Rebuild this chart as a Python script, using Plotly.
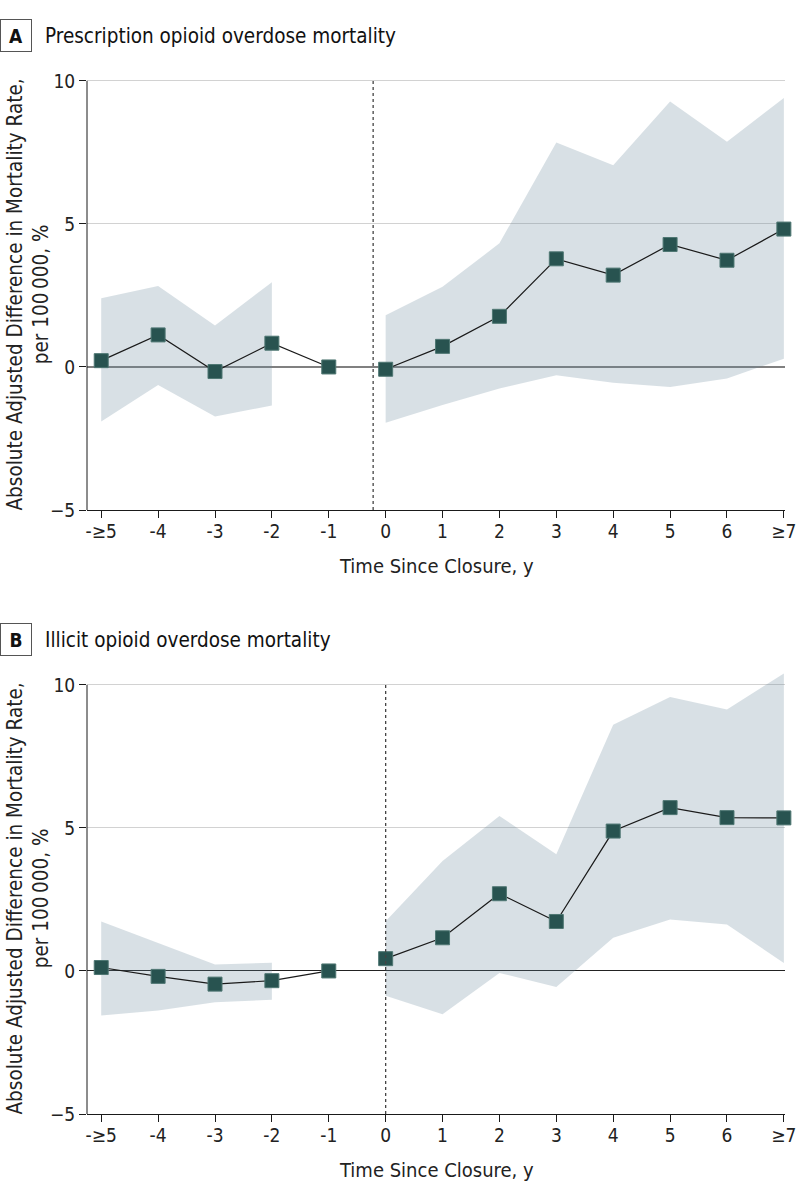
import plotly.graph_objects as go

# ---------------- data ----------------
tick_labels = ["-≥5", "-4", "-3", "-2", "-1", "0", "1", "2", "3", "4", "5", "6", "≥7"]
pre_idx = [0, 1, 2, 3, 4]
post_idx = [5, 6, 7, 8, 9, 10, 11, 12]

# Panel A: prescription opioid overdose mortality
a_pre_est = [0.22, 1.12, -0.16, 0.83, 0.0]
a_pre_lo = [-1.91, -0.63, -1.73, -1.35]
a_pre_hi = [2.40, 2.83, 1.45, 2.96]
a_post_est = [-0.08, 0.72, 1.77, 3.78, 3.21, 4.28, 3.73, 4.82]
a_post_lo = [-1.95, -1.33, -0.75, -0.29, -0.55, -0.70, -0.40, 0.29]
a_post_hi = [1.81, 2.80, 4.32, 7.85, 7.05, 9.28, 7.87, 9.40]
a_closure = 4.78

# Panel B: illicit opioid overdose mortality
b_pre_est = [0.12, -0.19, -0.46, -0.34, 0.0]
b_pre_lo = [-1.56, -1.38, -1.09, -1.01]
b_pre_hi = [1.73, 0.98, 0.23, 0.29]
b_post_est = [0.43, 1.16, 2.70, 1.73, 4.89, 5.71, 5.36, 5.35]
b_post_lo = [-0.87, -1.51, -0.07, -0.56, 1.16, 1.80, 1.62, 0.28]
b_post_hi = [1.74, 3.84, 5.42, 4.08, 8.61, 9.58, 9.14, 10.40]
b_closure = 5.0

titles = ["Prescription opioid overdose mortality", "Illicit opioid overdose mortality"]
letters = ["A", "B"]
ytitle = "Absolute Adjusted Difference in Mortality Rate,<br>per 100\u2009000, %"
xtitle = "Time Since Closure, y"

# ---------------- style ----------------
FONT = "Liberation Sans Narrow, DejaVu Sans Condensed, Roboto Condensed, Arial Narrow, sans-serif"
FILL = "rgba(100,130,150,0.25)"
MARK = "#285350"
W, H = 798, 1200
ML, MR, MT, MB = 87, 13, 68, 86
PW, PH = W - ML - MR, H - MT - MB


def px(x):
    return (x - ML) / PW


def py(y):
    return (H - MB - y) / PH


fig = go.Figure()

panels = [
    ("x", "y", a_pre_est, a_pre_lo, a_pre_hi, a_post_est, a_post_lo, a_post_hi, a_closure),
    ("x2", "y2", b_pre_est, b_pre_lo, b_pre_hi, b_post_est, b_post_lo, b_post_hi, b_closure),
]

for xa, ya, pre_e, pre_l, pre_h, post_e, post_l, post_h, clos in panels:
    ci_x = pre_idx[:4]
    fig.add_trace(go.Scatter(x=ci_x + ci_x[::-1], y=pre_h + pre_l[::-1], fill="toself",
                             fillcolor=FILL, line=dict(width=0), mode="lines",
                             hoverinfo="skip", showlegend=False, xaxis=xa, yaxis=ya))
    fig.add_trace(go.Scatter(x=post_idx + post_idx[::-1], y=post_h + post_l[::-1], fill="toself",
                             fillcolor=FILL, line=dict(width=0), mode="lines",
                             hoverinfo="skip", showlegend=False, xaxis=xa, yaxis=ya))
    for xs, ys in ((pre_idx, pre_e), (post_idx, post_e)):
        fig.add_trace(go.Scatter(x=xs, y=ys, mode="lines+markers",
                                 line=dict(color="#1a1a1a", width=1.2),
                                 marker=dict(symbol="square", size=14, color=MARK,
                                             line=dict(color="#4f7773", width=1)),
                                 showlegend=False, xaxis=xa, yaxis=ya, cliponaxis=False))
    # closure dotted line
    fig.add_shape(type="line", x0=clos, x1=clos, y0=-5, y1=10, xref=xa, yref=ya,
                  line=dict(color="#444444", width=1.3, dash="dot"), layer="above")
    # y axis line
    fig.add_shape(type="line", x0=0, x1=0, y0=-5, y1=10, xref=xa + " domain", yref=ya,
                  line=dict(color="#1a1a1a", width=1))

axis_common_x = dict(range=[-0.25, 12.02], tickvals=list(range(13)), ticktext=tick_labels,
                     showgrid=False, zeroline=False, showline=True, linecolor="#1a1a1a",
                     linewidth=1, ticks="outside", ticklen=7, tickcolor="#1a1a1a",
                     ticklabelstandoff=-3,
                     tickfont=dict(family=FONT, size=19, color="#222"), automargin=False,
                     fixedrange=True)
axis_common_y = dict(range=[-5, 10.45], tickvals=[-5, 0, 5, 10], showgrid=True,
                     gridcolor="#d2d2d2", gridwidth=1.3, zeroline=True, showline=False,
                     ticks="outside", ticklen=7, tickcolor="#1a1a1a",
                     tickfont=dict(family=FONT, size=19, color="#222"), automargin=False,
                     fixedrange=True)

fig.update_layout(
    width=W, height=H, paper_bgcolor="white", plot_bgcolor="white",
    margin=dict(l=ML, r=MR, t=MT, b=MB),
    font=dict(family=FONT, size=20, color="#222"),
    xaxis=dict(domain=[0, 1], anchor="y", **axis_common_x),
    yaxis=dict(domain=[py(510), py(68)], anchor="x", zerolinecolor="#808080", zerolinewidth=1.8,
               **axis_common_y),
    xaxis2=dict(domain=[0, 1], anchor="y2", **axis_common_x),
    yaxis2=dict(domain=[py(1114), py(672)], anchor="x2", zerolinecolor="#222222", zerolinewidth=1.2,
                **axis_common_y),
)

annots = []
for i, off in enumerate([0, 604]):
    annots.append(dict(x=px(16), y=py(35.5 + off), xref="paper", yref="paper", text="<b>%s</b>" % letters[i],
                       showarrow=False, font=dict(family=FONT, size=19, color="#111"),
                       bordercolor="#555555", borderwidth=1, width=28, height=29,
                       xanchor="center", yanchor="middle"))
    annots.append(dict(x=px(43), y=py(36 + off), xref="paper", yref="paper", text=titles[i],
                       showarrow=False, font=dict(family=FONT, size=20.5, color="#111"),
                       xanchor="left", yanchor="middle"))
    annots.append(dict(x=px(436), y=py(566 + off), xref="paper", yref="paper", text=xtitle,
                       showarrow=False, font=dict(family=FONT, size=20, color="#222"),
                       xanchor="center", yanchor="middle"))
    annots.append(dict(x=px(27.5), y=py(295 + off), xref="paper", yref="paper", text=ytitle,
                       showarrow=False, textangle=-90, font=dict(family=FONT, size=20.5, color="#222"),
                       xanchor="center", yanchor="middle"))
fig.update_layout(annotations=annots)

fig.write_html("out.html", config={"displayModeBar": False},
               post_script="document.body.style.margin='0';document.body.style.padding='0';")
